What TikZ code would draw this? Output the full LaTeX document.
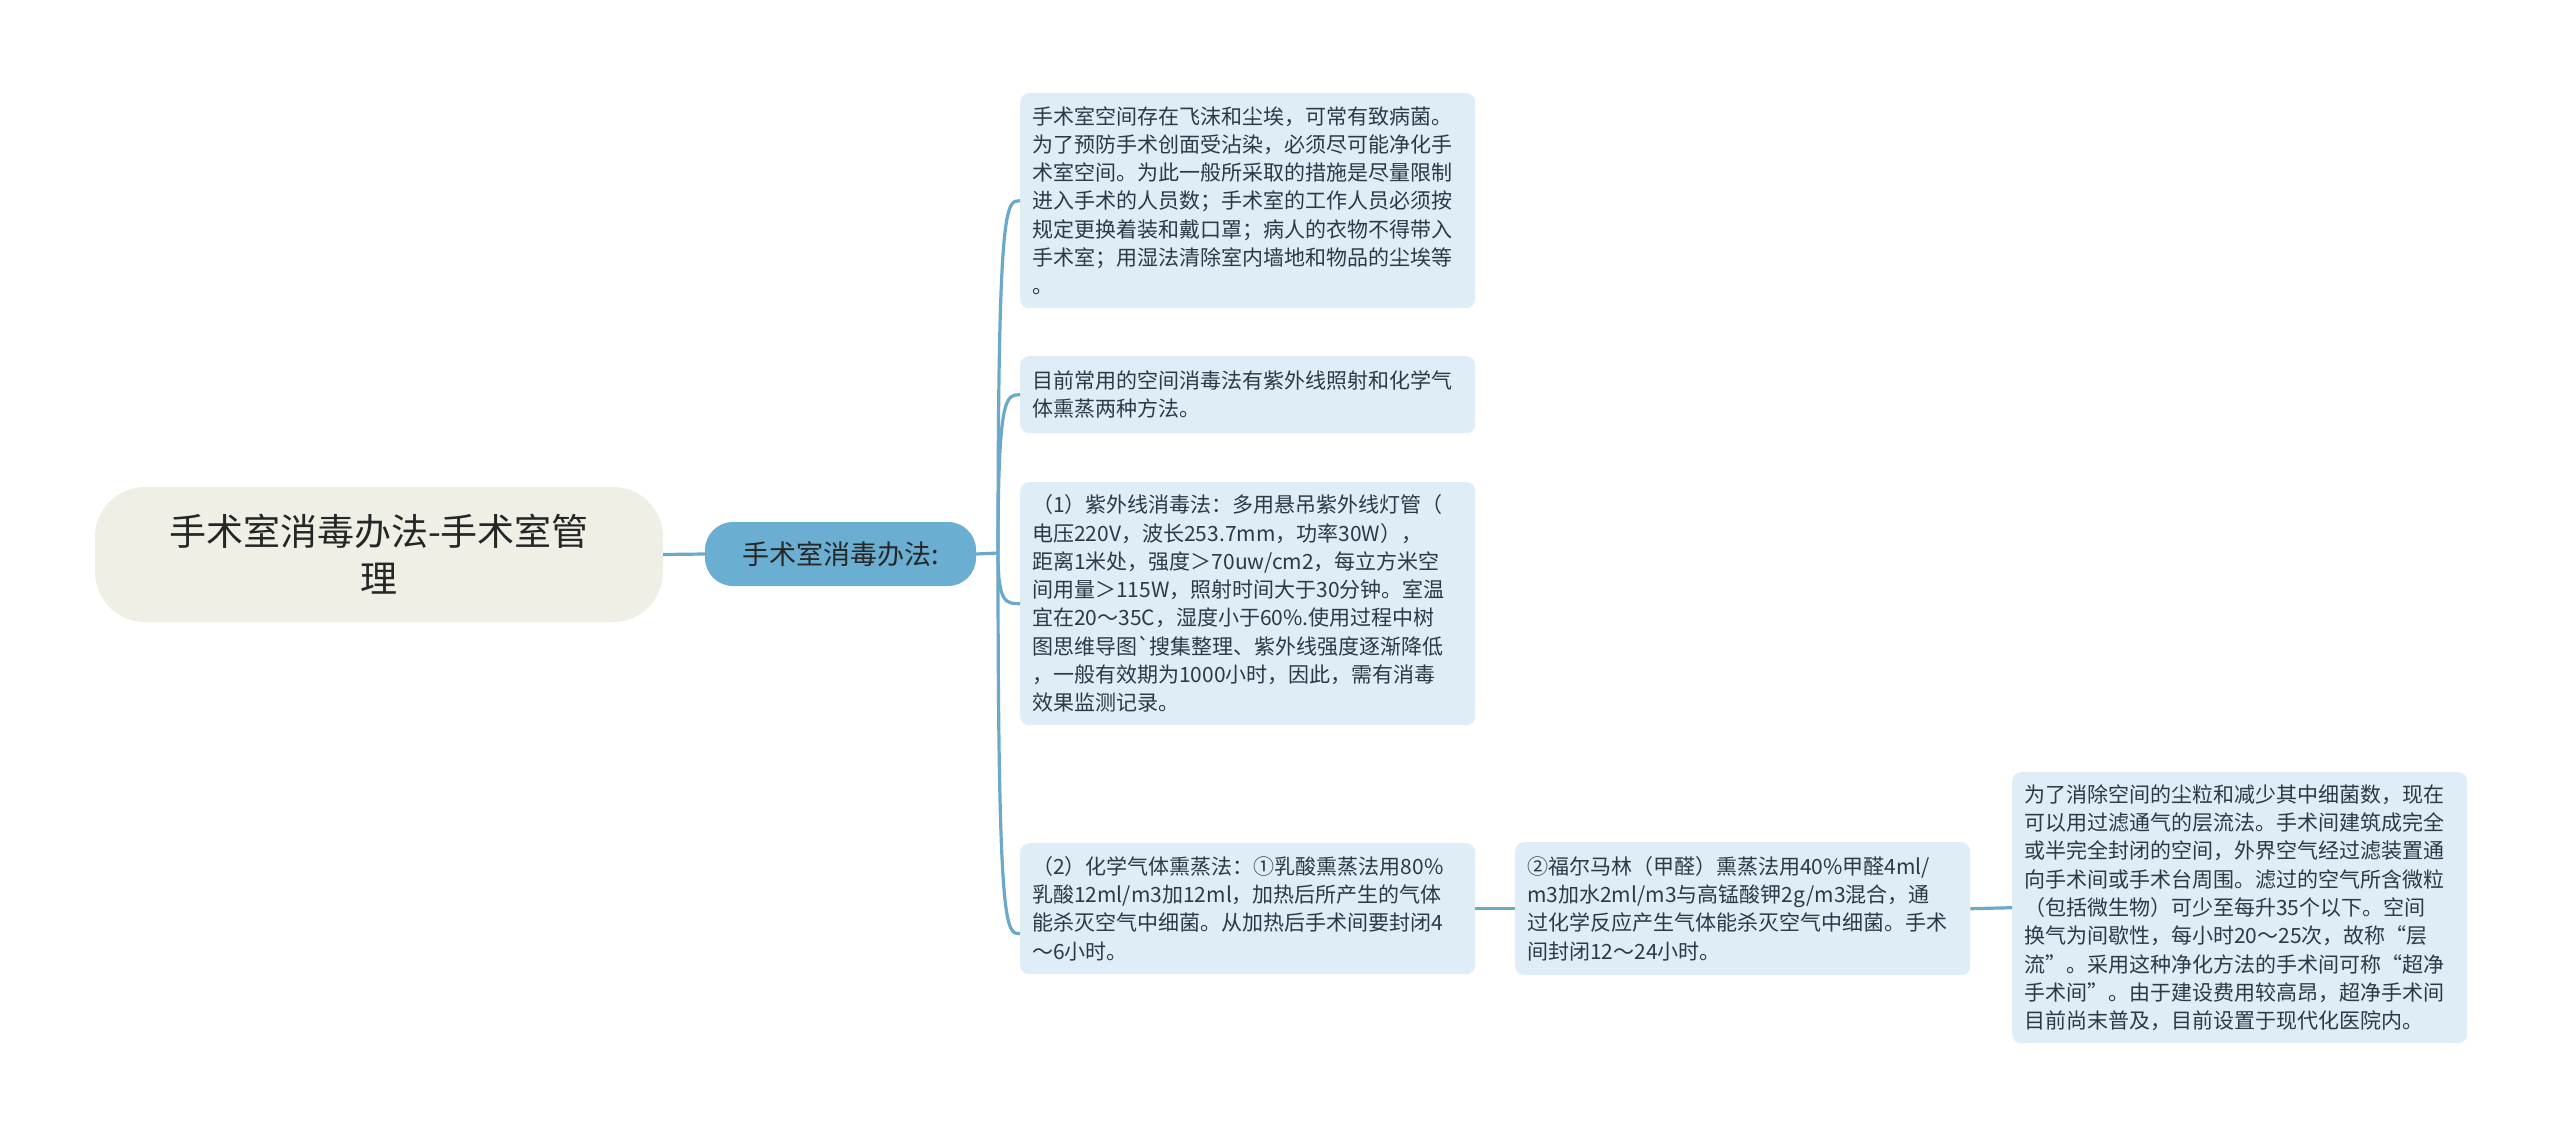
\documentclass[tikz,border=0pt]{standalone}
\usepackage{fontspec}
\newfontfamily\cjk{Noto Sans CJK SC}
\definecolor{leaffill}{HTML}{DEEDF6}
\definecolor{brfill}{HTML}{6AAED2}
\definecolor{rootfill}{HTML}{EFEFE6}
\definecolor{linec}{HTML}{6BA9CA}
\definecolor{txt}{HTML}{2A3A46}
\begin{document}
\begin{tikzpicture}[x=1pt,y=-1pt,
  leaf/.style={fill=leaffill, rounded corners=9pt, anchor=north west, text width=431pt,
    inner xsep=12pt, inner ysep=4pt, align=left,
    font=\cjk\fontsize{21}{28.3}\selectfont, text=txt},
  rootbox/.style={fill=rootfill, rounded corners=50pt, align=center,
    font=\cjk\fontsize{37}{47}\selectfont, text=black!85},
  branchbox/.style={fill=brfill, rounded corners=28pt, align=center,
    font=\cjk\fontsize{27}{34}\selectfont, text=black!85},
  conn/.style={draw=linec, line width=3.2pt},
]
\useasboundingbox (0,0) rectangle (2560,1138);
\fill[white] (0,0) rectangle (2560,1138);

\node[rootbox, minimum width=568pt, minimum height=135pt] (root) at (379,554.5) {手术室消毒办法-手术室管\\理};
\node[branchbox, minimum width=271pt, minimum height=64pt] (br) at (840.5,554) {手术室消毒办法:};

\node[leaf, minimum height=215pt] (b1) at (1020,93) {手术室空间存在飞沫和尘埃，可常有致病菌。\\
为了预防手术创面受沾染，必须尽可能净化手\\
术室空间。为此一般所采取的措施是尽量限制\\
进入手术的人员数；手术室的工作人员必须按\\
规定更换着装和戴口罩；病人的衣物不得带入\\
手术室；用湿法清除室内墙地和物品的尘埃等\\
。};

\node[leaf, minimum height=77pt] (b2) at (1020,356) {目前常用的空间消毒法有紫外线照射和化学气\\
体熏蒸两种方法。};

\node[leaf, minimum height=243pt] (b3) at (1020,482) {（1）紫外线消毒法：多用悬吊紫外线灯管（\\
电压220V，波长253.7mm，功率30W），\\
距离1米处，强度＞70uw/cm2，每立方米空\\
间用量＞115W，照射时间大于30分钟。室温\\
宜在20～35C，湿度小于60\%.使用过程中树\\
图思维导图`搜集整理、紫外线强度逐渐降低\\
，一般有效期为1000小时，因此，需有消毒\\
效果监测记录。};

\node[leaf, minimum height=131pt] (b4) at (1020,843) {（2）化学气体熏蒸法：①乳酸熏蒸法用80\%\\
乳酸12ml/m3加12ml，加热后所产生的气体\\
能杀灭空气中细菌。从加热后手术间要封闭4\\
～6小时。};

\node[leaf, minimum height=133pt] (b5) at (1515,842) {②福尔马林（甲醛）熏蒸法用40\%甲醛4ml/\\
m3加水2ml/m3与高锰酸钾2g/m3混合，通\\
过化学反应产生气体能杀灭空气中细菌。手术\\
间封闭12～24小时。};

\node[leaf, minimum height=271pt] (b6) at (2012,772) {为了消除空间的尘粒和减少其中细菌数，现在\\
可以用过滤通气的层流法。手术间建筑成完全\\
或半完全封闭的空间，外界空气经过滤装置通\\
向手术间或手术台周围。滤过的空气所含微粒\\
（包括微生物）可少至每升35个以下。空间\\
换气为间歇性，每小时20～25次，故称“层\\
流”。采用这种净化方法的手术间可称“超净\\
手术间”。由于建设费用较高昂，超净手术间\\
目前尚末普及，目前设置于现代化医院内。};

% connectors
\coordinate (j) at (998,553);
\coordinate (b4in) at ([yshift=-25pt]b4.west);
\draw[conn] (root.east) -- (br.west);
\draw[conn] (br.east) -- (j);
\draw[conn] (j) .. controls (j |- b1.west) and ([xshift=-14pt]b1.west) .. (b1.west);
\draw[conn] (j) .. controls (j |- b2.west) and ([xshift=-14pt]b2.west) .. (b2.west);
\draw[conn] (j) .. controls (j |- b3.west) and ([xshift=-14pt]b3.west) .. (b3.west);
\draw[conn] (j) .. controls (j |- b4in) and ([xshift=-14pt]b4in) .. (b4in);
\draw[conn] (b4.east) -- (b5.west);
\draw[conn] (b5.east) -- (b6.west);
\end{tikzpicture}
\end{document}
